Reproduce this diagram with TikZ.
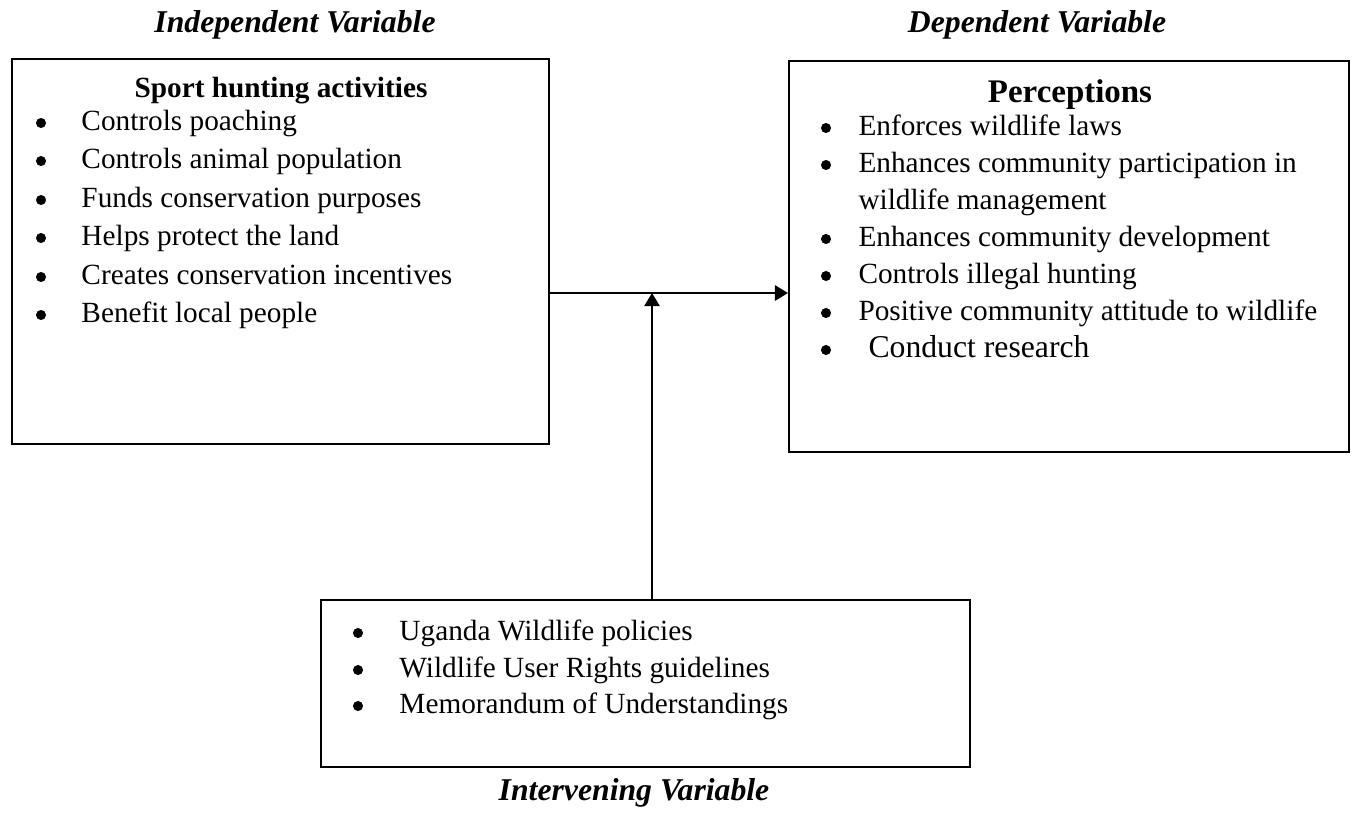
\documentclass[tikz,border=0pt]{standalone}
\usepackage{fontspec}
\setmainfont{Liberation Serif}
\usetikzlibrary{arrows.meta,fit}

\tikzset{
  vartitle/.style={font=\fontsize{13}{15}\selectfont\bfseries\itshape, inner sep=0pt, anchor=base},
  varhead/.style={font=\fontsize{12}{14}\selectfont\bfseries, inner sep=0pt, anchor=base},
  varbox/.style={draw, line width=0.8pt, inner sep=0pt},
  bulletdot/.style={circle, fill, inner sep=0pt, minimum size=1.45mm},
  itemtext/.style={font=\fontsize{12}{14}\selectfont, inner sep=0pt, anchor=base west},
  link/.style={line width=1pt, -{Triangle[length=1.9mm, width=2.2mm]}},
}

\begin{document}
\begin{tikzpicture}[x=0.0144cm, y=-0.0144cm]
\useasboundingbox (0,0) rectangle (1356,814);

%% Titles
\node[vartitle] (t-indep) at (295,32) {Independent Variable};
\node[vartitle] (t-dep) at (1037,32) {Dependent Variable};
\node[vartitle] (t-interv) at (634,800) {Intervening Variable};

%% Boxes
\node[varbox, fit={(12,59) (549,444)}] (box-iv) {};
\node[varbox, fit={(789,61) (1349,452)}] (box-dv) {};
\node[varbox, fit={(321,600) (970,767)}] (box-mv) {};

%% Independent variable
\node[varhead] (h-iv) at (281,97) {Sport hunting activities};
\node[bulletdot] (b-iv1) at (41,123) {};
\node[itemtext] (iv1) at (81,130) {Controls poaching};
\node[bulletdot] (b-iv2) at (41,161) {};
\node[itemtext] (iv2) at (81,168) {Controls animal population};
\node[bulletdot] (b-iv3) at (41,200) {};
\node[itemtext] (iv3) at (81,207) {Funds conservation purposes};
\node[bulletdot] (b-iv4) at (41,238) {};
\node[itemtext] (iv4) at (81,245) {Helps protect the land};
\node[bulletdot] (b-iv5) at (41,277) {};
\node[itemtext] (iv5) at (81,284) {Creates conservation incentives};
\node[bulletdot] (b-iv6) at (41,315) {};
\node[itemtext] (iv6) at (81,322) {Benefit local people};

%% Dependent variable
\node[varhead, font=\fontsize{13.5}{15}\selectfont\bfseries] (h-dv) at (1070,102) {Perceptions};
\node[bulletdot] (b-dv1) at (826,128) {};
\node[itemtext] (dv1) at (858,135) {Enforces wildlife laws};
\node[bulletdot] (b-dv2) at (826,165) {};
\node[itemtext] (dv2) at (858,172) {Enhances community participation in};
\node[itemtext] (dv2b) at (858,209) {wildlife management};
\node[bulletdot] (b-dv3) at (826,239) {};
\node[itemtext] (dv3) at (858,246) {Enhances community development};
\node[bulletdot] (b-dv4) at (826,276) {};
\node[itemtext] (dv4) at (858,283) {Controls illegal hunting};
\node[bulletdot] (b-dv5) at (826,313) {};
\node[itemtext] (dv5) at (858,320) {Positive community attitude to wildlife};
\node[bulletdot] (b-dv6) at (826,350) {};
\node[itemtext, font=\fontsize{13}{15}\selectfont] (dv6) at (868,357) {Conduct research};

%% Intervening variable
\node[bulletdot] (b-mv1) at (358,633) {};
\node[itemtext] (mv1) at (399,640) {Uganda Wildlife policies};
\node[bulletdot] (b-mv2) at (358,670) {};
\node[itemtext] (mv2) at (399,677) {Wildlife User Rights guidelines};
\node[bulletdot] (b-mv3) at (358,706) {};
\node[itemtext] (mv3) at (399,713) {Memorandum of Understandings};

%% Arrows
\coordinate (joint) at (652,293);
\draw[link] (box-iv.east |- joint) -- (box-dv.west |- joint);
\draw[link] (box-mv.north -| joint) -- (joint);

\end{tikzpicture}
\end{document}
